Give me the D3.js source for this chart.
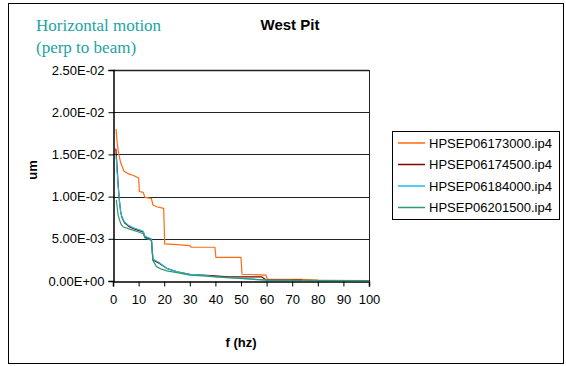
<!DOCTYPE html>
<html>
<head>
<meta charset="utf-8">
<script src="https://cdn.jsdelivr.net/npm/d3@7"></script>
<style>
	body { margin: 0; background: #fff; }
	text { font-family: "Liberation Sans", Arial, sans-serif; }
</style>
</head>
<body>
<div id="chart-area"></div>
<script>
// series names (legend)
const seriesNames = ["HPSEP06173000.ip4", "HPSEP06174500.ip4", "HPSEP06184000.ip4", "HPSEP06201500.ip4"];
const seriesColors = ["#ff6a10", "#800000", "#1ebcea", "#2e9a70"];

// [f (hz), um]
const orange = [[1.2, 0.0180], [1.6, 0.0165], [2.1, 0.0153], [3, 0.0140], [4.3, 0.0130], [6, 0.0127], [8, 0.0125],
	[10, 0.0122], [10.3, 0.0106], [11.8, 0.0105], [12.5, 0.0099], [15, 0.0098], [15.6, 0.0090], [17, 0.0088],
	[19.8, 0.0086], [20.2, 0.0044], [25, 0.0043], [30, 0.0042], [30.6, 0.0040], [39.8, 0.0040], [40.2, 0.0028],
	[50, 0.0028], [50.4, 0.0008], [59.8, 0.0007], [60.3, 0.0002], [73, 0.0002], [80, 0.0001]];
const darkRed = [[1.1, 0.0157], [1.5, 0.0140], [2, 0.0115], [2.5, 0.0095], [3, 0.0082], [3.5, 0.0075], [4.5, 0.0069],
	[6, 0.0065], [8, 0.0062], [10, 0.0060], [11.8, 0.0058], [12.5, 0.0052], [15, 0.0049], [15.6, 0.0025],
	[18, 0.0021], [21, 0.0015], [25, 0.0011], [30, 0.0008], [35, 0.0007], [40, 0.0006], [45, 0.0005],
	[50, 0.0005], [58, 0.0005], [60, 0.0001], [74, 0.0001]];
const cyan = [[1.2, 0.0148], [1.6, 0.0130], [2, 0.0112], [2.5, 0.0095], [3, 0.0082], [3.5, 0.0076], [4.5, 0.0070],
	[6, 0.0066], [8, 0.0063], [10, 0.0061], [11.8, 0.0059], [12.5, 0.0053], [15, 0.0050], [15.6, 0.0026],
	[18, 0.0022], [21, 0.0015], [25, 0.0011], [30, 0.0008], [35, 0.0007], [40, 0.0005], [45, 0.0004],
	[50, 0.0003], [60, 0.0001], [70, 0.00008]];
const green = [[1.3, 0.0096], [2, 0.0078], [3, 0.0068], [4, 0.0064], [6, 0.0062], [8, 0.0060], [10, 0.0058],
	[11.8, 0.0056], [12.5, 0.0051], [15, 0.0048], [15.6, 0.0024], [17, 0.0017], [19, 0.0014], [21, 0.0012],
	[25, 0.0010], [30, 0.0007], [35, 0.0006], [40, 0.0005], [50, 0.0003], [60, 0.0001], [100, 0.00005]];

const allSeries = [orange, darkRed, cyan, green];

// tick values
const xTicks = [0, 10, 20, 30, 40, 50, 60, 70, 80, 90, 100];
const yTicks = [0, 0.005, 0.01, 0.015, 0.02, 0.025];

const W = 566, H = 366;
const plot = {left: 113, right: 369, top: 70, bottom: 281};

let svg = d3.select("#chart-area").append("svg")
	.attr("width", W)
	.attr("height", H);

// outer frame
svg.append("rect")
	.attr("x", 8.5).attr("y", 3.5)
	.attr("width", 555).attr("height", 360)
	.attr("fill", "#fff")
	.attr("stroke", "#000");

// scales
let x = d3.scaleLinear().domain([0, 100]).range([plot.left, plot.right]);
let y = d3.scaleLinear().domain([0, 0.025]).range([plot.bottom, plot.top]);

// gridlines
svg.append("g")
	.selectAll("line")
	.data(yTicks.slice(1))
	.enter()
	.append("line")
	.attr("x1", plot.left).attr("x2", plot.right)
	.attr("y1", d => Math.round(y(d)) + 0.5)
	.attr("y2", d => Math.round(y(d)) + 0.5)
	.attr("stroke", "#222")
	.attr("stroke-width", d => d === 0.025 ? 1.5 : 1);

// right border of plot area
svg.append("line")
	.attr("x1", plot.right + 0.5).attr("x2", plot.right + 0.5)
	.attr("y1", plot.top).attr("y2", plot.bottom)
	.attr("stroke", "#222");

// axes
let xAxis = d3.axisBottom(x).tickValues(xTicks).tickSize(5).tickPadding(8);
let yAxis = d3.axisLeft(y).tickValues(yTicks).tickSize(5).tickPadding(4)
	.tickFormat(d => {
		let s = d.toExponential(2).toUpperCase(); // e.g. 2.50E-2
		return s.replace(/E([+-])(\d)$/, "E$10$2");
	});

let gx = svg.append("g")
	.attr("transform", "translate(0," + (plot.bottom + 0.5) + ")")
	.call(xAxis);
let gy = svg.append("g")
	.attr("transform", "translate(" + (plot.left + 0.5) + ",0)")
	.call(yAxis);

[gx, gy].forEach(g => {
	g.select(".domain").attr("stroke", "#000").attr("stroke-width", 1.5);
	g.selectAll(".tick line").attr("stroke", "#000");
	g.selectAll(".tick text")
		.attr("fill", "#000")
		.style("font-family", "Liberation Sans, Arial, sans-serif")
		.style("font-size", "13px");
});

// series lines
let line = d3.line()
	.x(d => x(d[0]))
	.y(d => y(d[1]));

svg.append("g")
	.selectAll("path")
	.data(allSeries)
	.enter()
	.append("path")
	.attr("d", line)
	.attr("fill", "none")
	.attr("stroke", (d, i) => seriesColors[i])
	.attr("stroke-width", 1.2)
	.attr("stroke-linejoin", "round");

// titles
svg.append("text")
	.attr("x", 290).attr("y", 30)
	.attr("text-anchor", "middle")
	.style("font-weight", "bold")
	.style("font-size", "15px")
	.text("West Pit");

svg.append("text")
	.attr("x", 36).attr("y", 31)
	.attr("fill", "#22a3a3")
	.style("font-family", "Liberation Serif, 'Times New Roman', serif")
	.style("font-size", "17px")
	.text("Horizontal motion");
svg.append("text")
	.attr("x", 36).attr("y", 53)
	.attr("fill", "#22a3a3")
	.style("font-family", "Liberation Serif, 'Times New Roman', serif")
	.style("font-size", "17px")
	.text("(perp to beam)");

// axis labels
svg.append("text")
	.attr("x", 241).attr("y", 347)
	.attr("text-anchor", "middle")
	.style("font-weight", "bold")
	.style("font-size", "13px")
	.text("f (hz)");

svg.append("text")
	.attr("transform", "translate(37,170) rotate(-90)")
	.attr("text-anchor", "middle")
	.style("font-weight", "bold")
	.style("font-size", "13px")
	.text("um");

// legend
let legend = svg.append("g").attr("transform", "translate(392,131)");
legend.append("rect")
	.attr("x", 0.5).attr("y", 0.5)
	.attr("width", 167).attr("height", 88)
	.attr("fill", "#fff")
	.attr("stroke", "#000");

let items = legend.selectAll(".item")
	.data(seriesNames)
	.enter()
	.append("g")
	.attr("class", "item")
	.attr("transform", (d, i) => "translate(0," + (12 + i * 21.5) + ")");
items.append("line")
	.attr("x1", 6).attr("x2", 33)
	.attr("y1", 0).attr("y2", 0)
	.attr("stroke", (d, i) => seriesColors[i])
	.attr("stroke-width", 1.5);
items.append("text")
	.attr("x", 37).attr("y", 4.5)
	.style("font-size", "13px")
	.text(d => d);
</script>
</body>
</html>
